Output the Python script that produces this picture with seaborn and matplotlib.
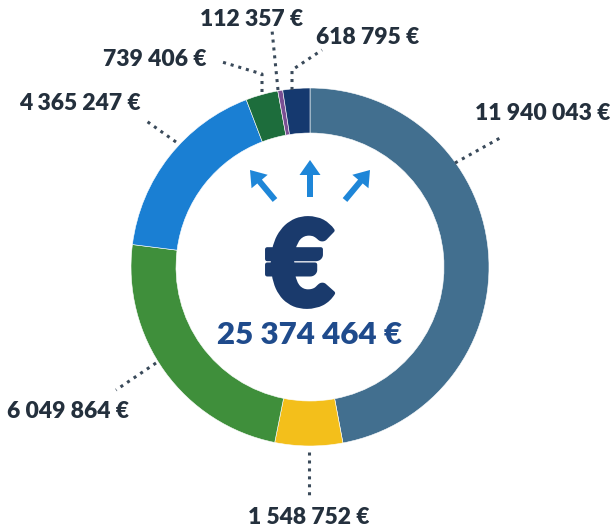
import numpy as np
import matplotlib.pyplot as plt
import matplotlib.patheffects as pe
import seaborn as sns

sns.set_theme(style="white")
plt.rcParams['font.family'] = ['Lato', 'DejaVu Sans']

# Datos del grafico (sentido horario desde arriba)
montos = [11940043, 1548752, 6049864, 4365247, 739406, 112357, 618795]
etiquetas = ["11 940 043 €", "1 548 752 €", "6 049 864 €", "4 365 247 €",
             "739 406 €", "112 357 €", "618 795 €"]
colores = ["#426f8f", "#f3bf1b", "#3f8f3b", "#1a7fd3", "#1d6d3c", "#7a4f93", "#15396f"]
total_txt = "25 374 464 €"

W, H = 615, 529
fig = plt.figure(figsize=(W / 100, H / 100), dpi=100)
ax = fig.add_axes([0, 0, 1, 1])

def py(y):
    return H - y

cx, cy, R = 310, 267, 179
ax.pie(montos, colors=colores, startangle=90, counterclock=False,
       center=(cx, py(cy)), radius=R, frame=True,
       wedgeprops=dict(width=45, edgecolor='white', linewidth=0.4))
ax.set_xlim(0, W)
ax.set_ylim(0, H)
ax.set_aspect('equal')
ax.axis('off')

# Posiciones de las etiquetas y lineas guia (pixeles)
pos_etiquetas = [(543, 113), (309, 517), (68, 412), (80, 103),
                 (155, 60), (252, 20), (368, 38)]
guias = [
    [(455, 163), (500, 138)],
    [(309, 452), (309, 495)],
    [(156, 363), (116, 390)],
    [(176, 142), (145, 120)],
    [(262, 92), (262, 74), (222, 62)],
    [(278, 90), (272, 30)],
    [(292, 90), (292, 70), (322, 50)],
]

for txt, (x, y), g in zip(etiquetas, pos_etiquetas, guias):
    ax.text(x, py(y), txt, ha='center', va='center', fontsize=16.5,
            fontweight='heavy', color='#24303d')
    xs = [p[0] for p in g]
    ys = [py(p[1]) for p in g]
    ax.plot(xs, ys, linestyle=(0, (1, 1.6)), color='#3a4a5a', linewidth=2.2)

# Simbolo central y total
ax.text(cx - 10, py(271), "€", ha='center', va='center', fontsize=86,
        fontweight='heavy', color='#1a3a6c',
        path_effects=[pe.withStroke(linewidth=3, foreground='#1a3a6c')])
ax.text(cx, py(335), total_txt, ha='center', va='center', fontsize=22.5,
        fontweight='heavy', color='#1f4b8c')

# Flechas
flechas = [((275, 200), (250, 170)), ((310, 197), (310, 160)), ((345, 200), (370, 170))]
for (x0, y0), (x1, y1) in flechas:
    ax.arrow(x0, py(y0), x1 - x0, py(y1) - py(y0), width=6, head_width=21,
             head_length=15, length_includes_head=True, color='#1e86d8', lw=0)

fig.savefig("out.png", dpi=100, facecolor='white')
